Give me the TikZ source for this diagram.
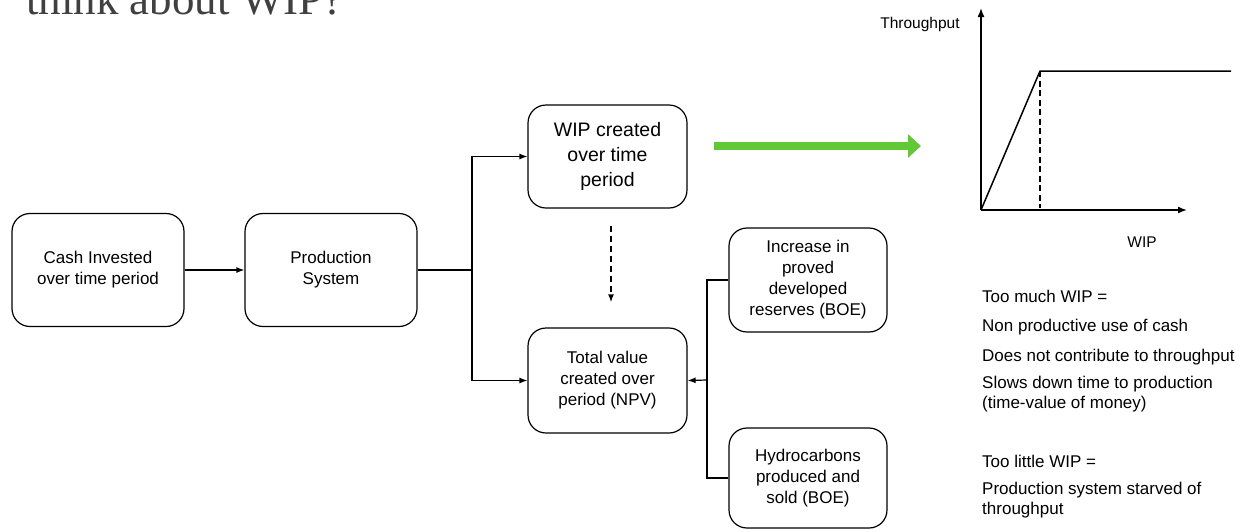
\documentclass[tikz,border=0pt]{standalone}
\usepackage{fontspec}
\setmainfont{Liberation Sans}
\newfontfamily\titlefont{Liberation Serif}
\usetikzlibrary{arrows}
\usetikzlibrary{arrows.meta}
\usetikzlibrary{positioning}
\definecolor{wipgreen}{HTML}{62C936}
\definecolor{titlegray}{HTML}{404040}
\tikzset{box/.style = {draw, rounded corners = 18pt, line width = 1.2pt, align = center,
                       inner sep = 2pt, font = \fontsize{17}{21}\selectfont}}
\tikzset{link/.style = {-{Latex[length = 8pt, width = 6pt]}, line width = 1.2pt}}
\tikzset{axis/.style = {-{Latex[length = 9pt, width = 7pt]}, line width = 1.5pt}}
\tikzset{note/.style = {anchor = base west, inner sep = 0, align = left,
                        font = \fontsize{17}{20}\selectfont}}

\begin{document}
\begin{tikzpicture}[x = 1pt, y = -1pt]
      \useasboundingbox (0, 0) rectangle (1253, 531);
      \clip (0, 0) rectangle (1253, 531);
      \node [anchor = base west, inner sep = 0, text = titlegray, font = \titlefont\fontsize{45}{45}\selectfont] (title) at (26, 14) {think about WIP?};

      % flow boxes
      \node [box, minimum width = 172pt, minimum height = 113pt] (cash) at (98, 270) {Cash Invested\\over time period};
      \node [box, minimum width = 172pt, minimum height = 113pt] (prod) at (331, 270) {Production\\System};
      \node [box, minimum width = 159pt, minimum height = 103pt, font = \fontsize{19.5}{25}\selectfont] (wip) at (607.5, 156.5) {WIP created\\over time\\period};
      \node [box, minimum width = 159pt, minimum height = 105pt] (npv) at (607.5, 380.5) {Total value\\created over\\period (NPV)};
      \node [box, minimum width = 158pt, minimum height = 104pt] (pdr) at (808, 280) {Increase in\\proved\\developed\\reserves (BOE)};
      \node [box, minimum width = 158pt, minimum height = 100pt] (hyd) at (808, 478) {Hydrocarbons\\produced and\\sold (BOE)};

      \coordinate (split) at (472, 270);
      \coordinate (join) at (707, 380);
      \draw [link] (cash) -- (prod);
      \draw [link] (prod.east) -- (split) |- (wip.west);
      \draw [link] (split) |- (npv.west);
      \draw [line width = 1.2pt] (pdr.west) -| (join) |- (hyd.west);
      \draw [link] (join) -- (npv.east);
      \draw [link, line width = 2pt, dash pattern = on 6pt off 4pt, shorten < = 17pt, shorten > = 25pt]
            ([xshift = 3.5pt] wip.south) -- ([xshift = 3.5pt] npv.north);

      % green arrow
      \coordinate (gstart) at (714, 146);
      \coordinate (gend) at (921, 146);
      \draw [wipgreen, line width = 8pt, -{Triangle[length = 13pt, width = 23pt]}] (gstart) -- (gend);

      % throughput graph
      \coordinate (o) at (981, 210);
      \coordinate (ytop) at (981, 8);
      \coordinate (xend) at (1187, 210);
      \coordinate (knee) at (1040, 71);
      \coordinate (flat) at (1231, 71);
      \coordinate (kneefoot) at (1040, 208);
      \draw [axis] (o) -- (ytop);
      \draw [axis] (o) -- (xend);
      \draw [line width = 1.5pt] (o) -- (knee) -- (flat);
      \draw [line width = 2pt, dash pattern = on 6pt off 3.5pt] (knee) -- (kneefoot);
      \node [font = \fontsize{15.5}{18}\selectfont] (thr) at (920, 24) {Throughput};
      \node [font = \fontsize{15.5}{18}\selectfont] (wiplab) at (1142, 242) {WIP};

      % notes (base of a two-line note is its last line)
      \node [note] (much) at (982, 302) {Too much WIP =};
      \node [note] (cash2) at (982, 331) {Non productive use of cash};
      \node [note] (contrib) at (982, 361) {Does not contribute to throughput};
      \node [note] (slows) at (982, 408) {Slows down time to production\\(time-value of money)};
      \node [note] (little) at (982, 467) {Too little WIP =};
      \node [note] (starved) at (982, 514) {Production system starved of\\throughput};
    \end{tikzpicture}
\end{document}
